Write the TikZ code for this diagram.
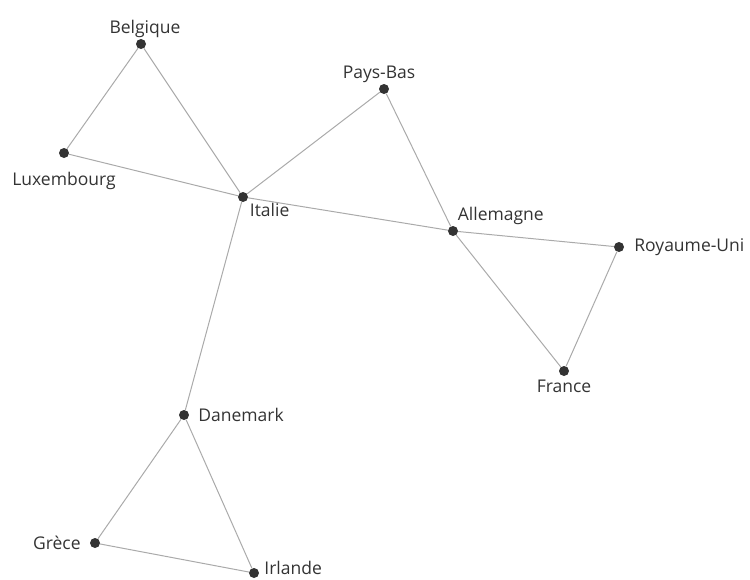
\documentclass[tikz,border=0pt]{standalone}
\usepackage{fontspec}
\setmainfont{Open Sans}
\usepackage{xcolor}
\definecolor{dotgray}{HTML}{333333}
\definecolor{edgegray}{HTML}{AAAAAA}
\usetikzlibrary{positioning}

\begin{document}
\begin{tikzpicture}[
  x=1pt, y=-1pt,
  font=\fontsize{17.5}{19}\selectfont,
  pays/.style={circle, fill=dotgray, inner sep=0pt, minimum size=10pt},
  lien/.style={draw=edgegray, line width=1pt},
  nom/.style={text=dotgray, inner sep=1pt}
]
  \useasboundingbox (0,0) rectangle (750,579);

  % les pays
  \node[pays] (bel) at (141,44)  {};
  \node[pays] (pb)  at (384,89)  {};
  \node[pays] (lux) at (64,153)  {};
  \node[pays] (ita) at (243,197) {};
  \node[pays] (all) at (453,231) {};
  \node[pays] (ru)  at (619,247) {};
  \node[pays] (fra) at (564,371) {};
  \node[pays] (dan) at (184,415) {};
  \node[pays] (gre) at (95,543)  {};
  \node[pays] (irl) at (254,573) {};

  % les liens
  \draw[lien] (bel) -- (lux);
  \draw[lien] (bel) -- (ita);
  \draw[lien] (lux) -- (ita);
  \draw[lien] (ita) -- (pb);
  \draw[lien] (ita) -- (all);
  \draw[lien] (pb)  -- (all);
  \draw[lien] (all) -- (ru);
  \draw[lien] (all) -- (fra);
  \draw[lien] (ru)  -- (fra);
  \draw[lien] (ita) -- (dan);
  \draw[lien] (dan) -- (gre);
  \draw[lien] (dan) -- (irl);
  \draw[lien] (gre) -- (irl);

  % les noms
  \node[nom, above=0pt of bel, xshift=4pt]       {Belgique};
  \node[nom, above=0pt of pb, xshift=-5pt]       {Pays-Bas};
  \node[nom, below=13pt of lux]                  {Luxembourg};
  \node[nom, below right=1pt and 2pt of ita]     {Italie};
  \node[nom, above right=1pt and 0pt of all]     {Allemagne};
  \node[nom, right=9pt of ru]                    {Royaume-Uni};
  \node[nom, below=3pt of fra]                   {France};
  \node[nom, right=8pt of dan]                   {Danemark};
  \node[nom, left=8pt of gre]                    {Grèce};
  \node[nom, right=4pt of irl, yshift=5pt]       {Irlande};
\end{tikzpicture}
\end{document}
